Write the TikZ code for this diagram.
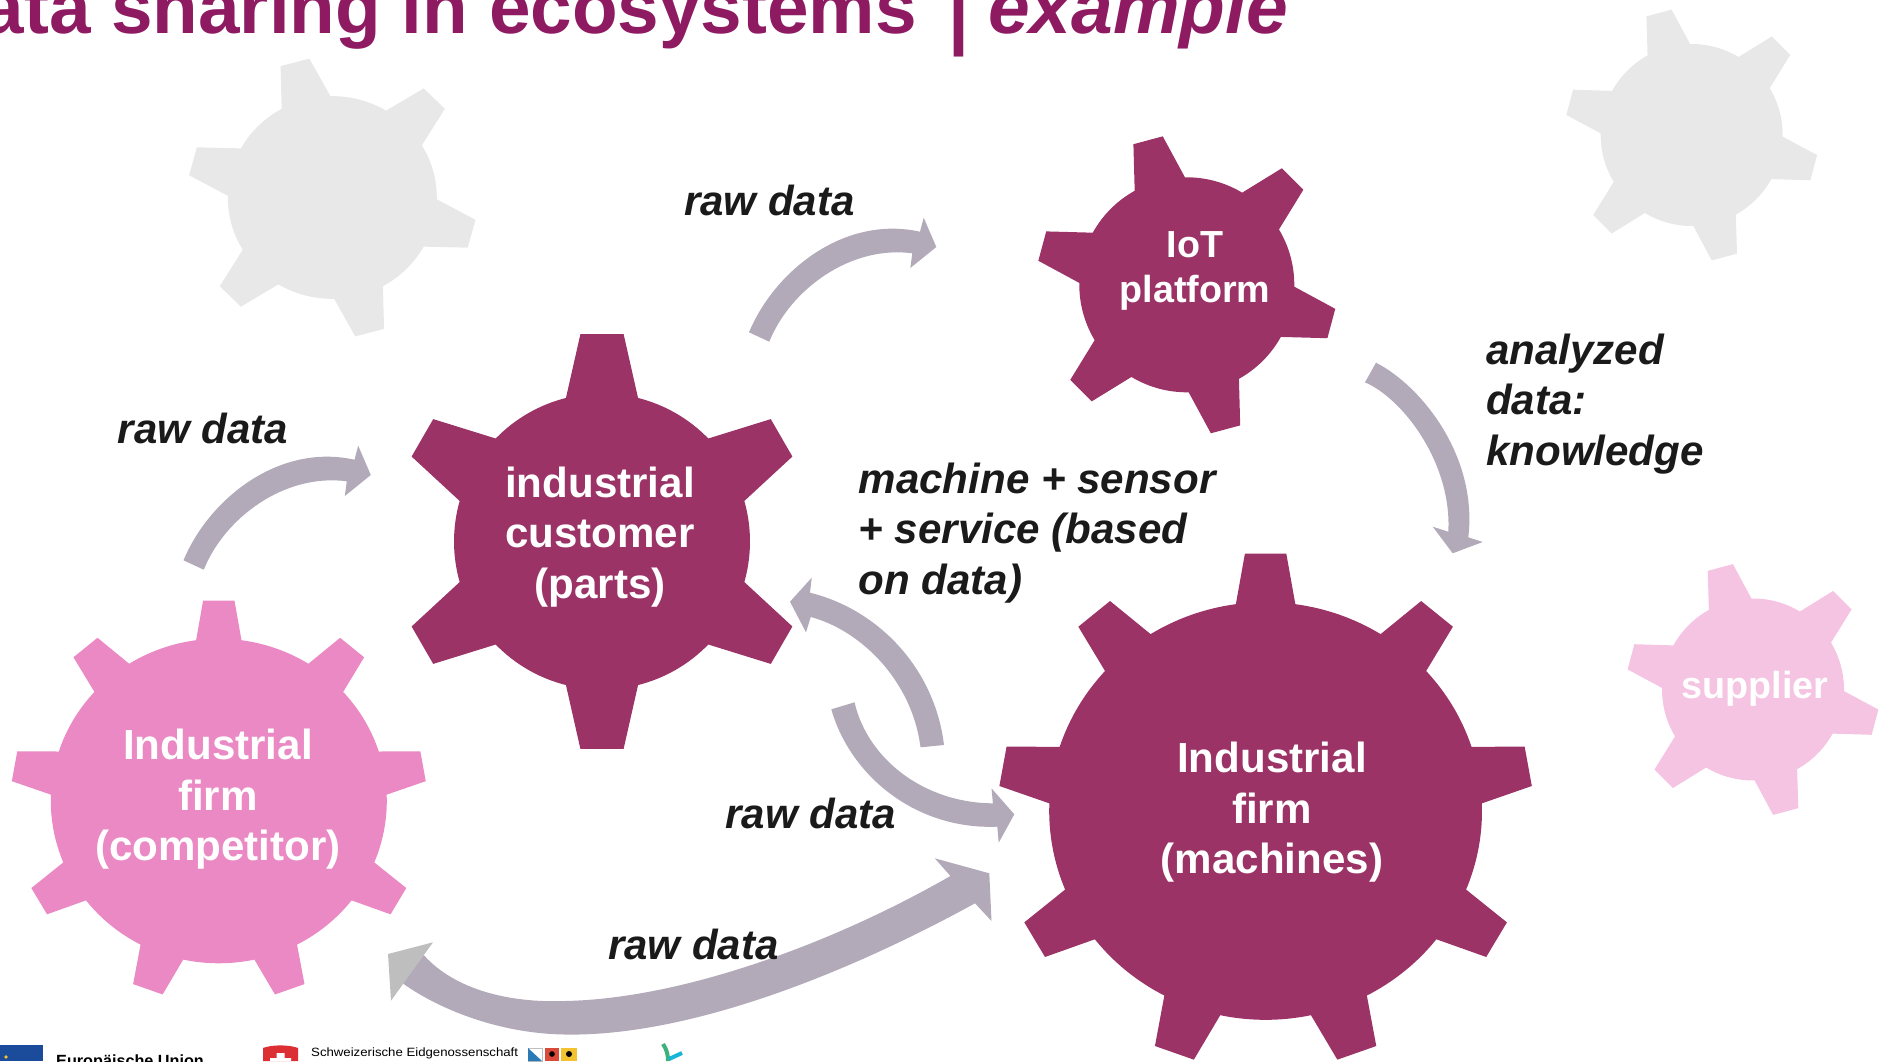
\documentclass[tikz,border=0pt]{standalone}
\usepackage{fontspec}
\setmainfont{Liberation Sans}
\newfontfamily\eidf[FakeStretch=1.1]{Liberation Sans}
\definecolor{gearDark}{HTML}{9B3366}
\definecolor{gearPink}{HTML}{EA89C3}
\definecolor{gearSoft}{HTML}{F5C4E2}
\definecolor{gearGrey}{HTML}{E8E8E8}
\definecolor{flowGrey}{HTML}{B3AAB9}
\definecolor{headGrey}{HTML}{BEBEBE}
\definecolor{titleCol}{HTML}{8E1B62}
\definecolor{inkCol}{HTML}{1A1A1A}
\definecolor{euBlue}{HTML}{1B4B9B}
\definecolor{swissRed}{HTML}{DC2F34}
\definecolor{zhBlue}{HTML}{2A7AB8}
\definecolor{shRed}{HTML}{D94A3A}
\definecolor{shYellow}{HTML}{F2C230}
\definecolor{logoGreen}{HTML}{3AB27A}
\definecolor{logoCyan}{HTML}{19B5D8}
% rot, teeth, R, Ro, h1, h2, colour
\newcommand{\gearbody}[7]{%
  \fill[#7] ({#1-#5}:#3)
    \foreach \k [evaluate=\k as \a using #1+\k*360/#2] in {0,...,\numexpr#2-1\relax} {
      -- ({\a-#6}:#4) -- ({\a+#6}:#4) -- ({\a+#5}:#3)
      arc[start angle={\a+#5}, end angle={\a+360/#2-#5}, radius=#3]
    } -- cycle;}
\newcommand{\rawarrow}{%
  \fill[flowGrey] (749,-332.3) .. controls (775,-270) and (845,-215) .. (920,-231.7)
    -- (923.7,-217.7) -- (936.3,-247) -- (910.3,-268) -- (912.3,-253.3)
    .. controls (850,-245) and (790,-290) .. (769.3,-341.7) -- cycle;}
\tikzset{
  geartext/.style={text=white,font=\bfseries\fontsize{42.1}{50.5}\selectfont,align=center,inner sep=0},
  smalltext/.style={text=white,font=\bfseries\fontsize{37.7}{45}\selectfont,align=center,inner sep=0},
  flowlabel/.style={text=inkCol,font=\bfseries\itshape\fontsize{42.1}{50.5}\selectfont,align=left,inner sep=0},
  rawlabel/.style={text=inkCol,font=\bfseries\itshape\fontsize{42}{50}\selectfont,inner sep=0,anchor=base}
}
\begin{document}
\begin{tikzpicture}[x=1pt,y=1pt]
\useasboundingbox (0,0) rectangle (1885,-1061);
\clip (0,0) rectangle (1885,-1061);
% title
\node[anchor=base east,inner sep=0,text=titleCol,font=\bfseries\fontsize{74.7}{80}\selectfont] (title) at (917,-33) {ata sharing in ecosystems};
\node[anchor=base,inner sep=0,text=titleCol,font=\bfseries\fontsize{74.5}{80}\selectfont] (titlebar) at (959,-40) {|};
\node[anchor=base west,inner sep=0,text=titleCol,font=\bfseries\itshape\fontsize{74.9}{80}\selectfont] (titleex) at (988,-33) {example};
% gears
\begin{scope}[shift={(332.3,-197.5)},yscale=0.97]\gearbody{105}{6}{104.5}{145}{14}{5.9}{gearGrey}\end{scope}
\begin{scope}[shift={(1691.7,-135)}]\gearbody{105}{6}{91}{127}{14}{5.9}{gearGrey}\end{scope}
\begin{scope}[shift={(1753,-689.5)}]\gearbody{105}{6}{91}{127}{14}{5.9}{gearSoft}\end{scope}
\begin{scope}[shift={(1186.8,-284.8)}]\gearbody{105}{6}{107.5}{150.4}{14}{5.8}{gearDark}\end{scope}
\begin{scope}[shift={(602,-541.5)}]\gearbody{90}{6}{148}{208.5}{14.1}{5.95}{gearDark}\end{scope}
\begin{scope}[shift={(1265.6,-811)},yscale=0.965]\gearbody{90}{9}{216.4}{267.5}{7.9}{4.44}{gearDark}\end{scope}
\begin{scope}[shift={(218.8,-801)},yscale=0.966]\gearbody{90}{9}{168}{208}{7.76}{4.33}{gearPink}\end{scope}
% arrows
\rawarrow
\begin{scope}[shift={(-565.5,-228)}]\rawarrow\end{scope}
\fill[flowGrey] (1376,-362.7) .. controls (1420,-385) and (1478,-455) .. (1468.3,-537.3)
  -- (1482.7,-542) -- (1452.7,-553.3) -- (1432.7,-526.7) -- (1448.3,-531.7)
  .. controls (1452,-465) and (1405,-400) .. (1365,-382.3) -- cycle;
\fill[flowGrey] (810,-592.7) .. controls (880,-610) and (935,-670) .. (944,-745)
  -- (920.5,-747.3) .. controls (912,-680) and (860,-630) .. (810.7,-617)
  -- (806,-632.3) -- (790,-601.7) -- (811.7,-577.7) -- cycle;
\fill[flowGrey] (854.5,-702.3) .. controls (868,-760) and (925,-803) .. (992.9,-803.3)
  -- (991.5,-788.3) -- (1014.3,-814.3) -- (998.7,-842.7) -- (997.3,-826.7)
  .. controls (915,-830) and (850,-775) .. (831.3,-709.3) -- cycle;
\fill[flowGrey] (423.7,-955) .. controls (455,-990) and (510,-1003) .. (564.3,-1001)
  .. controls (680,-999) and (830,-945) .. (950.4,-876)
  -- (934.8,-858.3) -- (989.3,-873.3) -- (991.5,-921) -- (975,-903.3)
  .. controls (850,-972) and (690,-1037) .. (564.3,-1034.5)
  .. controls (500,-1033.5) and (440,-1010) .. (402.7,-983.3) -- cycle;
\fill[headGrey] (433,-942.3) -- (388,-954) -- (391,-1000.7) -- cycle;
% gear texts
\node[geartext] (cust) at (600,-537) {industrial\\customer\\(parts)};
\node[geartext] (mach) at (1272,-812.3) {Industrial\\firm\\(machines)};
\node[geartext] (comp) at (218,-799.3) {Industrial\\firm\\(competitor)};
\node[smalltext] (iot) at (1195,-271.4) {IoT\\platform};
\node[smalltext,anchor=base] (supp) at (1755,-698.7) {supplier};
% labels
\node[rawlabel] (rawtop) at (769.5,-215) {raw data};
\node[rawlabel] (rawleft) at (203,-443.5) {raw data};
\node[rawlabel] (rawmid) at (810.7,-828.5) {raw data};
\node[rawlabel] (rawlow) at (693.5,-959.5) {raw data};
\node[flowlabel,anchor=west] (know) at (1486,-404) {analyzed\\data:\\knowledge};
\node[flowlabel,anchor=west] (serv) at (858.4,-532.7) {machine + sensor\\+ service (based\\on data)};
% logos
\fill[euBlue] (0,-1045) rectangle (43,-1061);
\fill[shYellow] (6,-1057) circle (1.8);
\node[anchor=base west,inner sep=0,font=\bfseries\fontsize{16.2}{18}\selectfont] (eu) at (56,-1066.6) {Europäische Union};
\fill[swissRed] (263,-1061) -- (263,-1048) .. controls (272,-1044.5) and (289,-1044.5) .. (298,-1048) -- (298,-1061) -- cycle;
\fill[white] (276.5,-1053) rectangle (284.5,-1061) (270,-1058) rectangle (291,-1061);
\node[anchor=base west,inner sep=0,font=\eidf\fontsize{12}{13}\selectfont] (eid) at (311,-1056) {Schweizerische Eidgenossenschaft};
\draw[gray!50,line width=.4] (528,-1048) rectangle (542,-1061);
\fill[zhBlue] (528,-1048) -- (542,-1061) -- (528,-1061) -- cycle;
\fill[shRed] (545,-1048) rectangle (559,-1061);
\fill[black] (552,-1054) circle (2.8);
\fill[shYellow] (561,-1048) rectangle (576.5,-1061);
\fill[black] (569,-1054) circle (3);
\draw[logoGreen,line width=4] (663,-1044) .. controls (667,-1050) and (668,-1055) .. (668,-1061);
\draw[logoCyan,line width=4] (669,-1059) -- (682,-1053);
\end{tikzpicture}
\end{document}
